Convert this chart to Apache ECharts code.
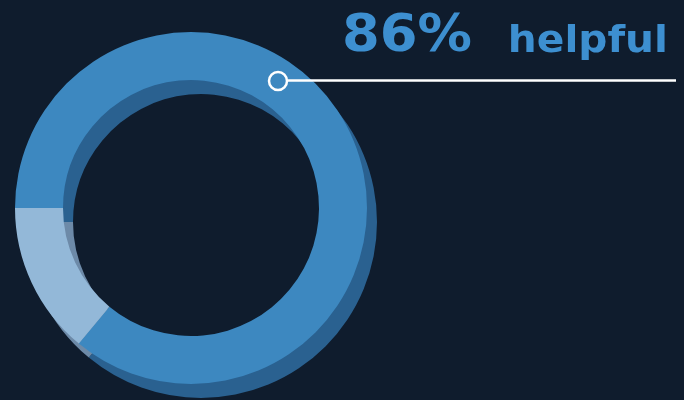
<!DOCTYPE html>
<html>
<head>
<meta charset="utf-8">
<script src="https://cdn.jsdelivr.net/npm/echarts@6/dist/echarts.min.js"></script>
<style>
  html, body { margin: 0; padding: 0; background: #0f1c2d; }
  #chart { width: 684px; height: 400px; }
</style>
</head>
<body>
<div id="chart"></div>
<script>
// ---- data ----
const categories = ['helpful', 'not helpful'];
const values = [86, 14];

// ---- style constants ----
const BG = '#0f1c2d';
const frontColors = ['#3d88c0', '#93b8d8'];
const backColors = ['#2a6190', '#6d8aa8'];
const CX = 191, CY = 208, R_IN = 128, R_OUT = 176;
const DX = 10, DY = 14;
const MARK_ANGLE = 34.4; // degrees clockwise from 12 o'clock
const MARK_R = 154;

const pieData = (colors) => categories.map((c, i) => ({
  name: c, value: values[i], itemStyle: { color: colors[i] }
}));

const mx = CX + MARK_R * Math.sin(MARK_ANGLE * Math.PI / 180);
const my = CY - MARK_R * Math.cos(MARK_ANGLE * Math.PI / 180);

const chart = echarts.init(document.getElementById('chart'), null, { renderer: 'canvas' });
chart.setOption({
  backgroundColor: BG,
  animation: false,
  series: [
    {
      type: 'pie', silent: true, startAngle: 180, clockwise: true,
      center: [CX + DX, CY + DY], radius: [R_IN, R_OUT],
      label: { show: false }, labelLine: { show: false },
      itemStyle: { borderWidth: 0 },
      data: pieData(backColors), z: 1
    },
    {
      type: 'pie', silent: true, startAngle: 180, clockwise: true,
      center: [CX, CY], radius: [R_IN, R_OUT],
      label: { show: false }, labelLine: { show: false },
      itemStyle: { borderWidth: 0 },
      data: pieData(frontColors), z: 2
    }
  ],
  graphic: [
    {
      type: 'line', z: 10,
      shape: { x1: mx + 10, y1: my - 0.5, x2: 676, y2: my - 0.5 },
      style: { stroke: '#ffffff', lineWidth: 2.5 }
    },
    {
      type: 'circle', z: 11,
      shape: { cx: mx, cy: my, r: 9 },
      style: { fill: frontColors[0], stroke: '#ffffff', lineWidth: 2.5 }
    },
    {
      type: 'text', z: 12, x: 342, y: 37, scaleX: 1.045,
      style: {
        text: values[0] + '%', fill: '#3d8fd0',
        font: 'bold 52px "DejaVu Sans"', textAlign: 'left', textVerticalAlign: 'middle'
      }
    },
    {
      type: 'text', z: 12, x: 668, y: 42, scaleX: 1.07,
      style: {
        text: categories[0], fill: '#3d8fd0',
        font: 'bold 38px "DejaVu Sans"', textAlign: 'right', textVerticalAlign: 'middle'
      }
    }
  ]
});
</script>
</body>
</html>
